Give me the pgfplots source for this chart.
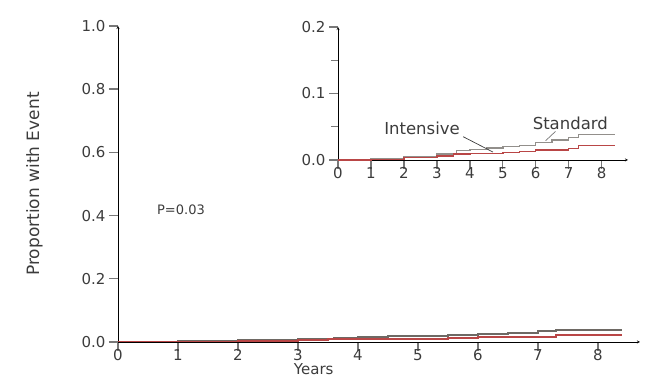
\documentclass[border=0pt]{standalone}
\usepackage{fontspec}
\setmainfont{DejaVu Sans}
\usepackage{pgfplots}
\usepackage{pgfplotstable}
\pgfplotsset{compat=1.18}
\definecolor{axgray}{RGB}{120,120,120}
\definecolor{txtgray}{RGB}{60,60,60}
\definecolor{intred}{RGB}{185,70,70}
\definecolor{stdgray}{RGB}{110,105,100}

\pgfplotstableread{
x y
0 0
0.5 0.001
1 0.002
2 0.005
3 0.009
3.6 0.014
4 0.016
4.5 0.018
5 0.020
5.5 0.022
6 0.026
6.5 0.030
7 0.034
7.3 0.038
8.4 0.038
}\stdtable

\pgfplotstableread{
x y
0 0
1 0.001
2 0.004
3 0.006
3.5 0.009
4 0.010
5 0.011
5.5 0.013
6 0.015
7 0.017
7.3 0.022
8.4 0.022
}\inttable

\pgfplotsset{
  common/.style={
    scale only axis,
    axis x line=bottom, axis y line=left,
    every axis x line/.append style={draw=axgray, line width=1.8pt, -},
    every axis y line/.append style={draw=axgray, line width=1.8pt, -},
    every tick/.append style={draw=axgray, line width=1.4pt},
    major tick length=9pt, minor tick length=7pt,
    xtick align=outside, ytick align=outside,
    ticklabel style={text=txtgray},
    xticklabel style={inner sep=1pt, yshift=3pt},
    /pgf/number format/assume math mode=true,
    yticklabel style={/pgf/number format/fixed, /pgf/number format/fixed zerofill, /pgf/number format/precision=1},
    xtick={0,...,8},
  }
}

\begin{document}
\begin{tikzpicture}[font=\fontsize{15}{17}\selectfont]
\path[use as bounding box] (-118pt,-35pt) rectangle (527pt,342pt);
\begin{axis}[common,
  at={(0pt,0pt)}, anchor=south west,
  width=522pt, height=316pt,
  xmin=0, xmax=8.7, ymin=0, ymax=1,
  ytick={0,0.2,0.4,0.6,0.8,1.0},
  ylabel={Proportion with Event},
  xlabel={Years},
  label style={text=txtgray},
  ylabel style={at={(axis description cs:-0.16,0.5)}, anchor=center, font=\fontsize{17}{19}\selectfont},
  xlabel style={at={(axis description cs:0.375,-0.104)}, anchor=base, inner sep=0pt, font=\fontsize{15}{17}\selectfont},
]
\addplot[const plot, stdgray, line width=2pt] table {\stdtable};
\addplot[const plot, intred, line width=2pt] table {\inttable};
\node[text=txtgray, font=\fontsize{13}{15}\selectfont] at (axis cs:1.05,0.42) {P=0.03};
\end{axis}

\begin{axis}[common,
  at={(220pt,182pt)}, anchor=south west,
  width=290pt, height=133pt,
  xmin=0, xmax=8.8, ymin=0, ymax=0.2,
  ytick={0,0.1,0.2}, minor ytick={0.05,0.15},
  clip=false,
]
\addplot[const plot, stdgray!75, line width=1.5pt] table {\stdtable};
\addplot[const plot, intred, line width=1.5pt] table {\inttable};
\node[text=txtgray, font=\fontsize{16.5}{18}\selectfont] at (axis cs:2.55,0.047) {Intensive};
\draw[txtgray, line width=0.7pt] (axis cs:3.8,0.035) -- (axis cs:4.7,0.012);
\node[text=txtgray, font=\fontsize{16.5}{18}\selectfont] at (axis cs:7.05,0.055) {Standard};
\draw[txtgray!70, line width=0.7pt] (axis cs:6.6,0.043) -- (axis cs:6.3,0.029);
\end{axis}
\end{tikzpicture}
\end{document}
